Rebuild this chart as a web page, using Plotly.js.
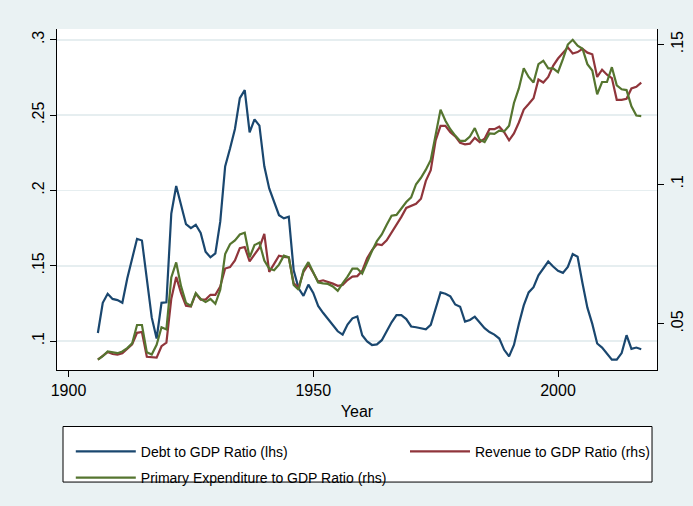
<!DOCTYPE html>
<html>
<head>
<meta charset="utf-8">
<script src="https://cdn.plot.ly/plotly-3.0.1.min.js"></script>
<style>html,body{margin:0;padding:0;background:#eaf2f3;}#chart{width:693px;height:506px;}</style>
</head>
<body>
<div id="chart"></div>
<script>
const years = [1906,1907,1908,1909,1910,1911,1912,1913,1914,1915,1916,1917,1918,1919,1920,1921,1922,1923,1924,1925,
1926,1927,1928,1929,1930,1931,1932,1933,1934,1935,1936,1937,1938,1939,1940,1941,1942,1943,1944,1945,
1946,1947,1948,1949,1950,1951,1952,1953,1954,1955,1956,1957,1958,1959,1960,1961,1962,1963,1964,1965,
1966,1967,1968,1969,1970,1971,1972,1973,1974,1975,1976,1977,1978,1979,1980,1981,1982,1983,1984,1985,
1986,1987,1988,1989,1990,1991,1992,1993,1994,1995,1996,1997,1998,1999,2000,2001,2002,2003,2004,2005,
2006,2007,2008,2009,2010,2011,2012,2013,2014,2015,2016,2017];

const debtRatio = [0.1054,0.1254,0.1314,0.1280,0.1272,0.1254,0.1416,0.1556,0.1679,0.1668,0.1405,0.1157,0.1017,0.1254,0.1258,0.1847,0.2030,0.1901,0.1776,0.1750,
0.1772,0.1718,0.1593,0.1556,0.1582,0.1793,0.2160,0.2278,0.2408,0.2613,0.2666,0.2386,0.2472,0.2430,0.2160,0.2013,0.1922,0.1836,0.1815,0.1825,
0.1470,0.1350,0.1300,0.1375,0.1320,0.1233,0.1188,0.1148,0.1108,0.1065,0.1043,0.1110,0.1151,0.1163,0.1039,0.0998,0.0974,0.0978,0.1006,0.1071,
0.1125,0.1172,0.1172,0.1146,0.1097,0.1092,0.1086,0.1078,0.1108,0.1211,0.1323,0.1314,0.1297,0.1243,0.1228,0.1129,0.1140,0.1162,0.1125,0.1086,
0.1060,0.1043,0.1017,0.0942,0.0898,0.0974,0.1114,0.1237,0.1323,0.1358,0.1437,0.1487,0.1528,0.1495,0.1466,0.1453,0.1492,0.1578,0.1560,0.1384,
0.1222,0.1114,0.0984,0.0957,0.0920,0.0877,0.0877,0.0920,0.1039,0.0948,0.0957,0.0946];

const revenueRatio = [0.0372,0.0384,0.0399,0.0392,0.0390,0.0395,0.0410,0.0427,0.0468,0.0471,0.0382,0.0381,0.0379,0.0420,0.0433,0.0590,0.0668,0.0610,0.0565,0.0562,
0.0608,0.0587,0.0587,0.0604,0.0604,0.0634,0.0698,0.0703,0.0727,0.0771,0.0775,0.0724,0.0750,0.0773,0.0822,0.0686,0.0715,0.0744,0.0740,0.0738,
0.0645,0.0631,0.0686,0.0713,0.0683,0.0651,0.0656,0.0651,0.0644,0.0636,0.0639,0.0657,0.0669,0.0671,0.0690,0.0735,0.0764,0.0785,0.0782,0.0799,
0.0826,0.0855,0.0883,0.0915,0.0924,0.0930,0.0948,0.1012,0.1050,0.1157,0.1209,0.1209,0.1186,0.1171,0.1148,0.1143,0.1145,0.1166,0.1151,0.1163,
0.1197,0.1197,0.1206,0.1186,0.1157,0.1182,0.1221,0.1267,0.1287,0.1308,0.1375,0.1364,0.1384,0.1424,0.1450,0.1472,0.1490,0.1468,0.1473,0.1485,
0.1471,0.1465,0.1384,0.1410,0.1392,0.1380,0.1302,0.1302,0.1306,0.1343,0.1349,0.1364];

const primaryExpRatio = [0.0372,0.0384,0.0401,0.0399,0.0395,0.0401,0.0413,0.0430,0.0496,0.0496,0.0398,0.0390,0.0425,0.0488,0.0480,0.0666,0.0720,0.0634,0.0575,0.0564,
0.0610,0.0589,0.0578,0.0589,0.0572,0.0622,0.0750,0.0785,0.0799,0.0820,0.0826,0.0738,0.0782,0.0791,0.0727,0.0698,0.0692,0.0712,0.0744,0.0738,
0.0639,0.0622,0.0692,0.0721,0.0686,0.0648,0.0645,0.0643,0.0634,0.0618,0.0645,0.0669,0.0698,0.0698,0.0680,0.0724,0.0761,0.0796,0.0820,0.0855,
0.0887,0.0890,0.0913,0.0936,0.0953,0.1000,0.1023,0.1052,0.1087,0.1180,0.1267,0.1227,0.1197,0.1174,0.1155,0.1155,0.1171,0.1201,0.1159,0.1151,
0.1182,0.1180,0.1192,0.1189,0.1209,0.1291,0.1343,0.1415,0.1384,0.1364,0.1430,0.1442,0.1415,0.1415,0.1401,0.1448,0.1500,0.1517,0.1496,0.1485,
0.1430,0.1407,0.1322,0.1366,0.1366,0.1419,0.1354,0.1340,0.1337,0.1279,0.1246,0.1244];

const seriesNames = ["Debt to GDP Ratio (lhs)", "Revenue to GDP Ratio (rhs)", "Primary Expenditure to GDP Ratio (rhs)"];
const leftTicks = [0.1, 0.15, 0.2, 0.25, 0.3];
const leftTickText = [".1", ".15", ".2", ".25", ".3"];
const rightTicks = [0.05, 0.1, 0.15];
const rightTickText = [".05", ".1", ".15"];
const xTicks = [1900, 1950, 2000];

const FONT = "Liberation Sans, Arial, Helvetica, sans-serif";
const navy = "#1a476f", maroon = "#90353b", green = "#55752f";

const traces = [
  {x: years, y: debtRatio, name: seriesNames[0], type: "scatter", mode: "lines",
   line: {color: navy, width: 2.2}, yaxis: "y", legend: "legend", legendgroup: "a"},
  {x: years, y: revenueRatio, name: seriesNames[1], type: "scatter", mode: "lines",
   line: {color: maroon, width: 2.2}, yaxis: "y2", legend: "legend2", legendgroup: "b"},
  {x: years, y: primaryExpRatio, name: seriesNames[2], type: "scatter", mode: "lines",
   line: {color: green, width: 2.2}, yaxis: "y2", legend: "legend", legendgroup: "c"}
];

const tickFont = {family: FONT, size: 16, color: "#000"};
const legendFont = {family: FONT, size: 14, color: "#000"};

const layout = {
  width: 693, height: 506,
  margin: {l: 57, r: 36, t: 29, b: 127, pad: 0},
  paper_bgcolor: "#eaf2f3",
  plot_bgcolor: "#ffffff",
  showlegend: true,
  xaxis: {
    range: [1897.65, 2020.22], tickvals: xTicks, ticks: "outside", ticklen: 6, tickwidth: 1,
    tickcolor: "#000", showline: true, linecolor: "#000", linewidth: 1, showgrid: false, zeroline: false,
    tickfont: tickFont, title: {text: "Year", font: tickFont, standoff: 7}
  },
  yaxis: {
    range: [0.0808, 0.3072], tickvals: leftTicks, ticktext: leftTickText, tickangle: -90,
    ticks: "outside", ticklen: 6, tickwidth: 1, tickcolor: "#000", showline: true, linecolor: "#000", linewidth: 1,
    showgrid: true, gridcolor: "#e6eef0", gridwidth: 1.5, zeroline: false, tickfont: tickFont
  },
  yaxis2: {
    overlaying: "y", side: "right", range: [0.03348, 0.15557], tickvals: rightTicks, ticktext: rightTickText,
    tickangle: -90, ticks: "outside", ticklen: 6, tickwidth: 1, tickcolor: "#000", showline: true,
    linecolor: "#000", linewidth: 1, showgrid: false, zeroline: false, tickfont: tickFont
  },
  legend: {
    x: 0.023, xanchor: "left", y: -0.193, yanchor: "top", orientation: "v",
    bgcolor: "rgba(0,0,0,0)", borderwidth: 0, font: legendFont, itemwidth: 60, tracegroupgap: 5,
    itemclick: false, itemdoubleclick: false
  },
  legend2: {
    x: 0.58, xanchor: "left", y: -0.193, yanchor: "top", orientation: "v",
    bgcolor: "rgba(0,0,0,0)", borderwidth: 0, font: legendFont, itemwidth: 60,
    itemclick: false, itemdoubleclick: false
  },
  shapes: [{
    type: "rect", xref: "paper", yref: "paper", x0: 0.01, x1: 0.9917, y0: -0.3286, y1: -0.1657,
    fillcolor: "#ffffff", line: {color: "#000", width: 1}, layer: "above"
  }]
};

Plotly.newPlot("chart", traces, layout, {staticPlot: true, displayModeBar: false});
</script>
</body>
</html>
